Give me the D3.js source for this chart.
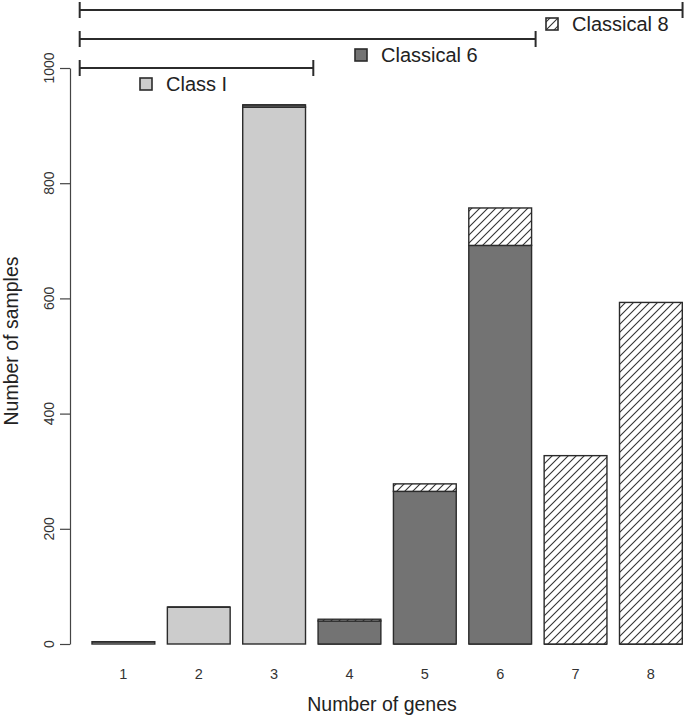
<!DOCTYPE html>
<html>
<head>
<meta charset="utf-8">
<script src="https://cdn.jsdelivr.net/npm/d3@7"></script>
<style>
  html, body { margin: 0; padding: 0; background: #fff; }
  svg { display: block; font-family: "Liberation Sans", Arial, sans-serif; }
</style>
</head>
<body>
<svg id="chart" width="685" height="716"></svg>
<script>
// ---- data ----
const genes = [1, 2, 3, 4, 5, 6, 7, 8];
const classI = [4, 64, 932, 0, 0, 0, 0, 0];
const classical6 = [0, 0, 4, 40, 265, 692, 0, 0];
const classical8 = [0, 0, 0, 3, 13, 65, 327, 593];
const seriesNames = ["Class I", "Classical 6", "Classical 8"];
const yTicks = [0, 200, 400, 600, 800, 1000];
// bracket spans in gene-position units (centre of bar i = i)
const bracketStart = [0.42, 0.42, 0.42];
const bracketEnd = [3.52, 6.47, 8.42];
const xLabel = "Number of genes";
const yLabel = "Number of samples";

// ---- layout ----
const svg = d3.select("#chart");
const ink = "#2b2b2b";
const fills = ["#cccccc", "#737373", "url(#hatch)"];

const defs = svg.append("defs");
const pat = defs.append("pattern")
  .attr("id", "hatch").attr("patternUnits", "userSpaceOnUse")
  .attr("width", 8).attr("height", 8);
pat.append("rect").attr("width", 8).attr("height", 8).attr("fill", "#fff");
pat.append("path")
  .attr("d", "M-2,2 L2,-2 M0,8 L8,0 M6,10 L10,6")
  .attr("stroke", "#333").attr("stroke-width", 1.1);

const x = d3.scaleBand().domain(genes).range([92, 682.3])
  .paddingInner(0.2 / 1.2).paddingOuter(0);
const y = d3.scaleLinear().domain([0, 1000]).range([644, 68]);
// linear position scale: gene i -> centre of bar i
const xc = d3.scaleLinear().domain([1, 8])
  .range([x(1) + x.bandwidth() / 2, x(8) + x.bandwidth() / 2]);

// stacked data
const table = genes.map((g, i) => ({ gene: g, "Class I": classI[i], "Classical 6": classical6[i], "Classical 8": classical8[i] }));
const stack = d3.stack().keys(seriesNames)(table);

const gBars = svg.append("g");
stack.forEach((layer, li) => {
  layer.forEach(d => {
    const gx = x(d.data.gene);
    const y0 = y(d[0]), y1 = y(d[1]);
    if (d[1] - d[0] > 0) {
      gBars.append("rect")
        .attr("x", gx).attr("y", y1)
        .attr("width", x.bandwidth()).attr("height", Math.max(0.5, y0 - y1))
        .attr("fill", fills[li])
        .attr("stroke", ink).attr("stroke-width", 1.4);
    } else {
      gBars.append("line")
        .attr("x1", gx).attr("x2", gx + x.bandwidth())
        .attr("y1", y0).attr("y2", y0)
        .attr("stroke", ink).attr("stroke-width", 1.4);
    }
  });
});

// y axis
const yAxis = d3.axisLeft(y).tickValues(yTicks).tickSize(10).tickSizeOuter(0).tickPadding(0);
const ga = svg.append("g").attr("transform", "translate(70,0)").call(yAxis);
ga.select(".domain").attr("stroke", "#444").attr("stroke-width", 1.2);
ga.selectAll(".tick line").attr("stroke", "#444").attr("stroke-width", 1.2);
ga.selectAll(".tick text").remove();
yTicks.forEach(t => {
  svg.append("text")
    .attr("transform", `translate(54,${y(t)}) rotate(-90)`)
    .attr("text-anchor", "middle")
    .attr("font-size", 14).attr("fill", "#333")
    .text(t);
});

// x tick labels
genes.forEach(g => {
  svg.append("text")
    .attr("x", x(g) + x.bandwidth() / 2).attr("y", 679)
    .attr("text-anchor", "middle").attr("font-size", 14.5).attr("fill", "#333")
    .text(g);
});

// axis titles
svg.append("text").attr("x", 382).attr("y", 711)
  .attr("text-anchor", "middle").attr("font-size", 19.5).attr("fill", "#222")
  .text(xLabel);
svg.append("text").attr("transform", "translate(18,341) rotate(-90)")
  .attr("text-anchor", "middle").attr("font-size", 19.5).attr("fill", "#222")
  .text(yLabel);

// brackets (shortest lowest)
const bracketY = [68, 39, 10];
bracketEnd.forEach((e, i) => {
  const g = svg.append("g").attr("stroke", ink).attr("stroke-width", 2);
  const xa = xc(bracketStart[i]), xb = xc(e), by = bracketY[i];
  g.append("line").attr("x1", xa).attr("x2", xb).attr("y1", by).attr("y2", by);
  g.append("line").attr("x1", xa).attr("x2", xa).attr("y1", by - 8).attr("y2", by + 8);
  g.append("line").attr("x1", xb).attr("x2", xb).attr("y1", by - 8).attr("y2", by + 8);
});

// legend labels beneath brackets
const legendPos = [[140, 78], [355, 49], [546, 18]];
seriesNames.forEach((name, i) => {
  const [lx, ly] = legendPos[i];
  svg.append("rect").attr("x", lx).attr("y", ly)
    .attr("width", 12).attr("height", 12)
    .attr("fill", fills[i]).attr("stroke", ink).attr("stroke-width", 1.6);
  svg.append("text").attr("x", lx + 26).attr("y", ly + 13)
    .attr("font-size", 20).attr("fill", "#222").text(name);
});
</script>
</body>
</html>
